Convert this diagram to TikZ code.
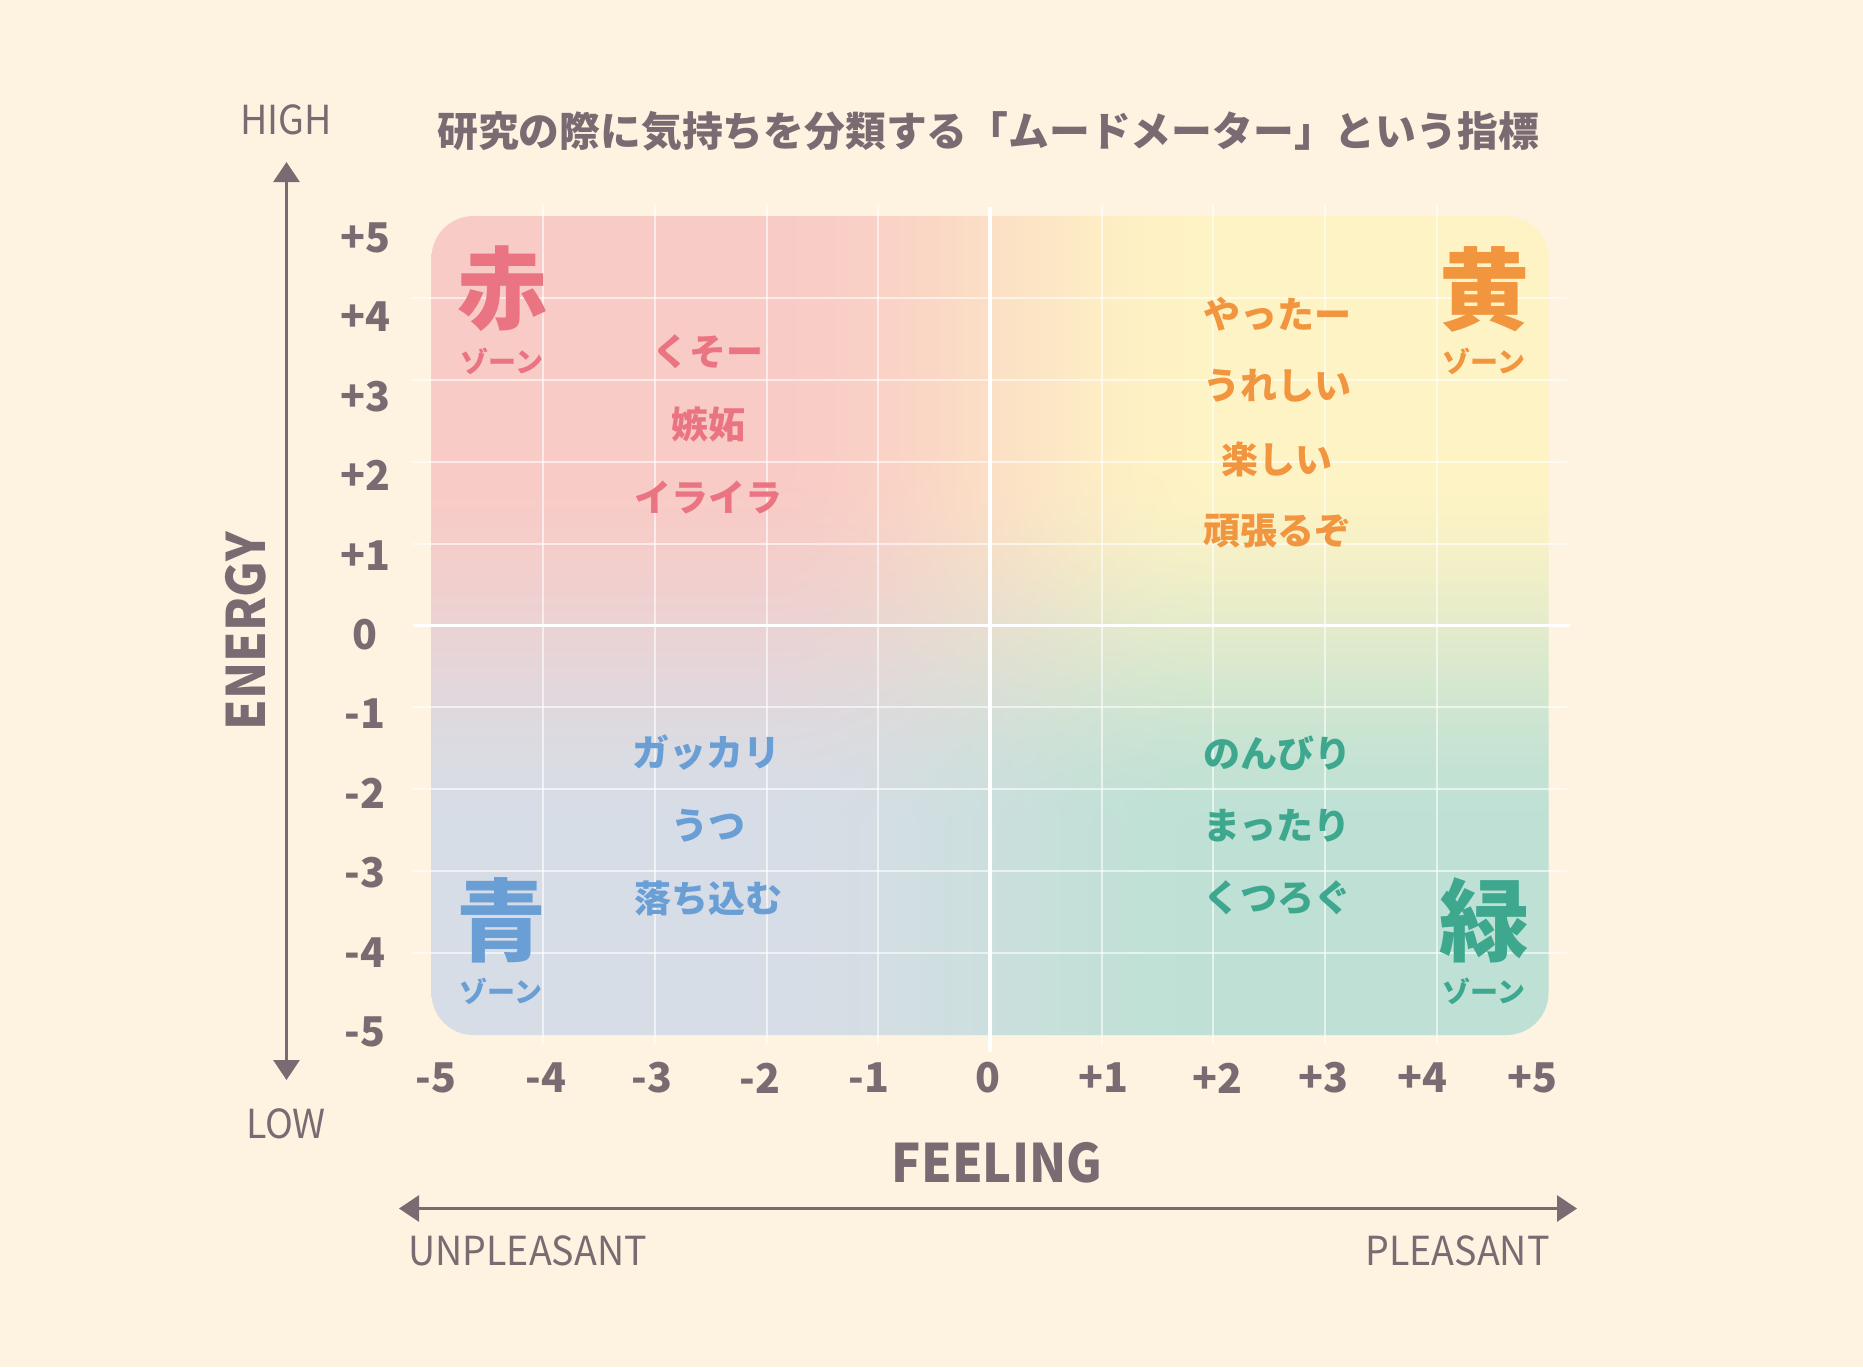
\documentclass[tikz,border=0pt]{standalone}
\usepackage{fontspec}
\setmainfont{Noto Sans CJK JP}
\newfontfamily\condf[FakeStretch=0.92]{Noto Sans CJK JP}
\newfontfamily\condl[FakeStretch=0.94]{Noto Sans CJK JP}
\usetikzlibrary{arrows.meta}
\definecolor{bgcol}{RGB}{254,242,225}
\definecolor{axiscol}{RGB}{122,107,114}
\definecolor{redz}{RGB}{234,116,130}
\definecolor{orz}{RGB}{241,149,63}
\definecolor{bluez}{RGB}{106,159,214}
\definecolor{greenz}{RGB}{62,168,143}
\pgfdeclarefunctionalshading{moodquad}{\pgfpointorigin}{\pgfpoint{100bp}{100bp}}{}{
 37.5 sub 22.5 div dup abs exch 1 sub abs sub 1 add 2 div dup dup mul exch 2 mul 3 exch sub mul
 exch
 40 sub 20 div dup abs exch 1 sub abs sub 1 add 2 div dup dup mul exch 2 mul 3 exch sub mul
 1 index 1 index mul 0.114 mul 1 index -0.094 mul add 2 index 0.133 mul add 0.843 add
 2 index 2 index mul 0.142 mul 2 index 0.015 mul add 3 index -0.071 mul add 0.867 add
 3 index 3 index mul 0.060 mul 3 index -0.067 mul add 4 index -0.126 mul add 0.902 add
 5 3 roll pop pop
}
\tikzset{
 gridline/.style={white, opacity=0.6, line width=1pt},
 axisline/.style={white, line width=1.6pt},
 axisarrow/.style={axiscol, line width=1.5pt, {Triangle[length=10pt,width=13pt]}-{Triangle[length=10pt,width=13pt]}},
 ticklab/.style={inner sep=0pt, text=axiscol, font=\bfseries\fontsize{20.5pt}{24pt}\selectfont},
 endlab/.style={inner sep=0pt, text=axiscol, font=\condl\fontsize{20pt}{24pt}\selectfont},
 axtitle/.style={inner sep=0pt, text=axiscol, font=\condf\bfseries\fontsize{26.5pt}{32pt}\selectfont},
 zonebig/.style={inner sep=0pt, font=\bfseries\fontsize{45pt}{50pt}\selectfont},
 zonesub/.style={inner sep=0pt, font=\bfseries\fontsize{14pt}{17pt}\selectfont},
 wordlab/.style={inner sep=0pt, font=\bfseries\fontsize{18.5pt}{22pt}\selectfont},
}
\begin{document}
\begin{tikzpicture}[x=0.5pt,y=-0.5pt]
\fill[bgcol] (0,0) rectangle (1863,1367);
\useasboundingbox (0,0) rectangle (1863,1367);
% quadrant field
\shade[shading=moodquad, rounded corners=21pt] (431.5,216) rectangle (1548.5,1035);
% grid
\foreach \k in {1,2,3,4,6,7,8,9}{
 \draw[gridline] ({431.5+\k*111.7},205) -- ({431.5+\k*111.7},1045);
 \draw[gridline] (413,{216+\k*81.9}) -- (1567,{216+\k*81.9});
}
\draw[axisline] (990,207) -- (990,1052);
\draw[axisline] (413,625.7) -- (1570,625.7);
% title
\node[inner sep=0pt, text=axiscol, font=\bfseries\fontsize{20.4pt}{24pt}\selectfont] (title) at (988,131) {研究の際に気持ちを分類する「ムードメーター」という指標};
% vertical axis
\coordinate (ytop) at (286.5,162);
\coordinate (ybot) at (286.5,1080);
\draw[axisarrow] (ytop) -- (ybot);
\node[endlab] (high) at (286,120) {HIGH};
\node[endlab] (low) at (286,1124) {LOW};
\node[axtitle, rotate=90] (energy) at (246,631) {ENERGY};
\foreach \v/\lab in {5/+5,4/+4,3/+3,2/+2,1/+1,0/0,-1/-1,-2/-2,-3/-3,-4/-4,-5/-5}{
 \node[ticklab] (yt\v) at (365,{237.6+(5-\v)*79.4}) {\lab};
}
% horizontal axis
\foreach \n/\xx/\lab in {a/436/-5,b/546/-4,c/652/-3,d/760/-2,e/869/-1,f/988/0,g/1103/+1,h/1217/+2,i/1323/+3,j/1422/+4,k/1532/+5}{
 \node[ticklab] (xt\n) at (\xx,1078) {\lab};
}
\node[axtitle] (feeling) at (997,1163) {FEELING};
\coordinate (xl) at (399,1208.5);
\coordinate (xr) at (1577,1208.5);
\draw[axisarrow] (xl) -- (xr);
\node[endlab, anchor=west] (unpl) at (408,1251) {UNPLEASANT};
\node[endlab, anchor=east] (pl) at (1550,1251) {PLEASANT};
% zones
\node[zonebig, text=redz] (aka) at (502,289) {赤};
\node[zonesub, text=redz] (akaz) at (502,361) {ゾーン};
\node[zonebig, text=orz] (ki) at (1484,289) {黄};
\node[zonesub, text=orz] (kiz) at (1484,361) {ゾーン};
\node[zonebig, text=bluez] (ao) at (501,920) {青};
\node[zonesub, text=bluez] (aoz) at (501,991) {ゾーン};
\node[zonebig, text=greenz] (midori) at (1484,920) {緑};
\node[zonesub, text=greenz] (midoriz) at (1484,991) {ゾーン};
% words
\node[wordlab, text=redz] (r1) at (708,352) {くそー};
\node[wordlab, text=redz] (r2) at (708,424) {嫉妬};
\node[wordlab, text=redz] (r3) at (708,497) {イライラ};
\node[wordlab, text=orz] (y1) at (1277,314) {やったー};
\node[wordlab, text=orz] (y2) at (1277,386) {うれしい};
\node[wordlab, text=orz] (y3) at (1277,459) {楽しい};
\node[wordlab, text=orz] (y4) at (1277,531) {頑張るぞ};
\node[wordlab, text=bluez] (b1) at (706,753) {ガッカリ};
\node[wordlab, text=bluez] (b2) at (708,826) {うつ};
\node[wordlab, text=bluez] (b3) at (708,898) {落ち込む};
\node[wordlab, text=greenz] (g1) at (1277,753) {のんびり};
\node[wordlab, text=greenz] (g2) at (1277,826) {まったり};
\node[wordlab, text=greenz] (g3) at (1277,898) {くつろぐ};
\end{tikzpicture}
\end{document}
